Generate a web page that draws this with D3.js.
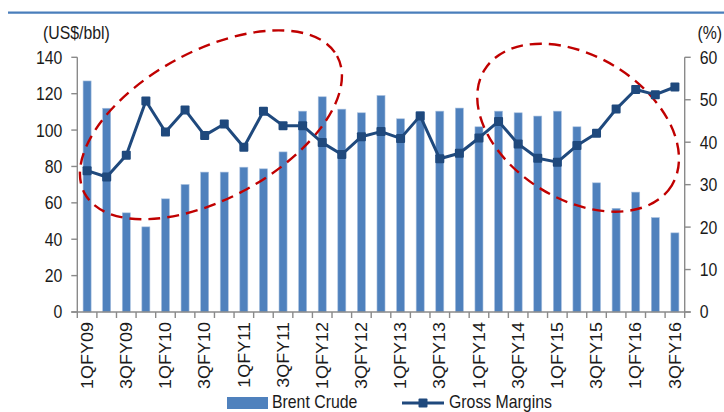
<!DOCTYPE html>
<html><head><meta charset="utf-8">
<script src="https://cdn.jsdelivr.net/npm/d3@7"></script>
<style>
html,body{margin:0;padding:0;background:#fff;}
svg{display:block;}
text{font-family:"Liberation Sans",Arial,sans-serif;fill:#1a1a1a;}
</style></head>
<body>
<svg id="chart" width="724" height="412"></svg>
<script>
const categories = ["1QFY09","2QFY09","3QFY09","4QFY09","1QFY10","2QFY10","3QFY10","4QFY10",
  "1QFY11","2QFY11","3QFY11","4QFY11","1QFY12","2QFY12","3QFY12","4QFY12",
  "1QFY13","2QFY13","3QFY13","4QFY13","1QFY14","2QFY14","3QFY14","4QFY14",
  "1QFY15","2QFY15","3QFY15","4QFY15","1QFY16","2QFY16","3QFY16"];
const brentCrude = [127,112,54.5,46.8,62.2,70.1,76.9,76.9,79.6,78.7,88,110.4,118.3,111.5,109.5,119,
  106.2,110.2,110.4,112.1,101.8,110.4,109.5,107.7,110.4,101.8,71,57,65.9,51.9,43.5];
const grossMargins = [33.3,31.8,36.9,49.7,42.4,47.6,41.6,44.3,38.8,47.3,43.9,43.9,39.9,37.1,41.3,42.5,
  40.9,46.2,36.1,37.4,41.0,44.9,39.6,36.2,35.3,39.2,42.1,47.8,52.4,51.2,53.0];
const leftTicks = [0,20,40,60,80,100,120,140];
const rightTicks = [0,10,20,30,40,50,60];
const xLabels = categories.filter((d,i)=>i%2===0);
const seriesNames = ["Brent Crude","Gross Margins"];
// annotation ellipses: center as (category index, left-axis value), radii in px, rotation deg
const highlights = [
  {ci:6.82, v:102.9, rx:143.7, ry:73.7, rot:-28.6},
  {ci:25.56, v:101.3, rx:110, ry:71.6, rot:31.7}
];

const barColor = "#4f81bd", lineColor = "#1f497d", axisColor = "#8a8a8a", red = "#c00000";
const svg = d3.select("#chart");
const L = 77.3, R = 684.7, T = 57.3, B = 312;
const FS = 18, SX = 0.88;

const x = d3.scaleBand().domain(categories).range([L, R]).padding(0);
const xb = d3.scaleBand().domain(categories).range([L, R]).paddingInner(0.59).paddingOuter(0.295);
const yL = d3.scaleLinear().domain([0,140]).range([B, T]);
const yR = d3.scaleLinear().domain([0,60]).range([B, T]);

function hText(x0, y0, s, anchor){
  return svg.append("text").attr("transform", `translate(${x0},${y0}) scale(${SX},1)`)
    .attr("text-anchor", anchor).attr("font-size", FS).text(s);
}

// top rule
svg.append("line").attr("x1",8).attr("x2",724).attr("y1",12.7).attr("y2",12.7)
  .attr("stroke","#4a7ebb").attr("stroke-width",2.2);

// bars
svg.append("g").selectAll("rect").data(categories).join("rect")
  .attr("x", d=>xb(d)).attr("width", xb.bandwidth())
  .attr("y", (d,i)=>yL(brentCrude[i])).attr("height", (d,i)=>B - yL(brentCrude[i]))
  .attr("fill", barColor).attr("stroke","#a9c1df").attr("stroke-width",0.6);

// axes lines
const ax = svg.append("g").attr("stroke", axisColor).attr("stroke-width",1.4).attr("fill","none");
ax.append("line").attr("x1",L).attr("x2",L).attr("y1",T).attr("y2",B);
ax.append("line").attr("x1",R).attr("x2",R).attr("y1",T).attr("y2",B);
ax.append("line").attr("x1",L-6).attr("x2",R+6).attr("y1",B).attr("y2",B);
leftTicks.forEach(t=>{ ax.append("line").attr("x1",L-6).attr("x2",L).attr("y1",yL(t)).attr("y2",yL(t)); });
rightTicks.forEach(t=>{ ax.append("line").attr("x1",R).attr("x2",R+6).attr("y1",yR(t)).attr("y2",yR(t)); });
categories.concat(["_end"]).forEach((c,i)=>{
  const xx = i < categories.length ? x(c) : R;
  ax.append("line").attr("x1",xx).attr("x2",xx).attr("y1",B).attr("y2",B+6);
});

// tick labels
leftTicks.forEach(t=> hText(L-15, yL(t), t, "end").attr("dy","0.36em"));
rightTicks.forEach(t=> hText(R+15, yR(t), t, "start").attr("dy","0.36em"));
xLabels.forEach(c=>{
  svg.append("text").attr("transform", `translate(${x(c)+x.bandwidth()/2},${B+10}) rotate(-90) scale(1,${SX})`)
    .attr("text-anchor","end").attr("dy","0.36em").attr("font-size", FS).text(c);
});

// units
hText(43, 39, "(US$/bbl)", "start");
hText(722, 39, "(%)", "end");

// ellipses
highlights.forEach(h=>{
  const cx = L + h.ci * x.step(), cy = yL(h.v);
  svg.append("ellipse").attr("cx",0).attr("cy",0).attr("rx",h.rx).attr("ry",h.ry)
    .attr("transform",`translate(${cx},${cy}) rotate(${h.rot})`)
    .attr("fill","none").attr("stroke",red).attr("stroke-width",2.4).attr("stroke-dasharray","12,7");
});

// line
const lineGen = d3.line().x((d,i)=>x(categories[i])+x.bandwidth()/2).y(d=>yR(d));
svg.append("path").datum(grossMargins).attr("d", lineGen)
  .attr("fill","none").attr("stroke",lineColor).attr("stroke-width",3).attr("stroke-linejoin","round");
svg.append("g").selectAll("rect").data(grossMargins).join("rect")
  .attr("x",(d,i)=>x(categories[i])+x.bandwidth()/2-4.5).attr("y",d=>yR(d)-4.5)
  .attr("width",9).attr("height",9).attr("rx",1).attr("fill",lineColor);

// legend
svg.append("rect").attr("x",227).attr("y",397).attr("width",41).attr("height",12).attr("fill",barColor);
hText(272, 408, seriesNames[0], "start");
svg.append("line").attr("x1",402).attr("x2",444).attr("y1",403).attr("y2",403)
  .attr("stroke",lineColor).attr("stroke-width",3);
svg.append("rect").attr("x",418.5).attr("y",398.5).attr("width",9).attr("height",9).attr("rx",1).attr("fill",lineColor);
hText(449, 408, seriesNames[1], "start");
</script>
</body></html>
